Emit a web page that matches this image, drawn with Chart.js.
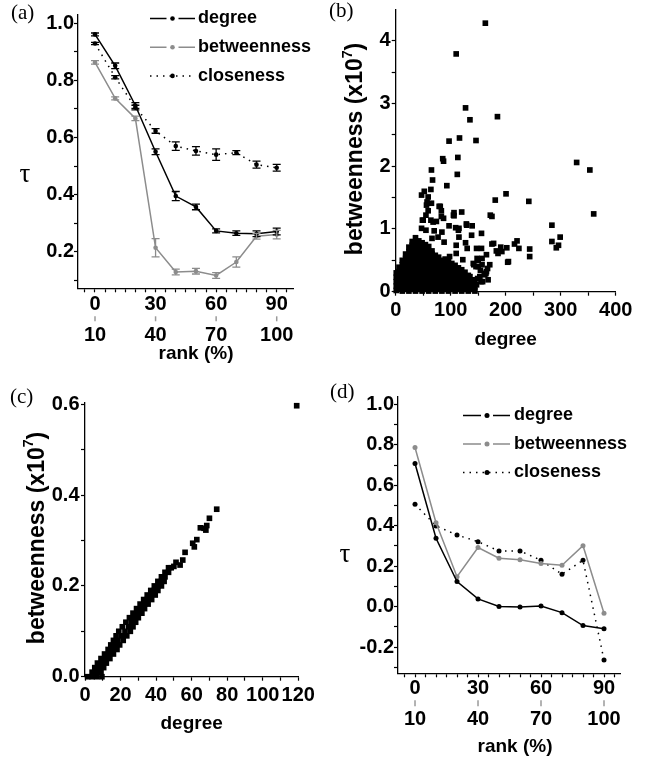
<!DOCTYPE html>
<html>
<head>
<meta charset="utf-8">
<script src="https://cdn.jsdelivr.net/npm/chart.js@4.4.1/dist/chart.umd.min.js"></script>
<style>
  html, body { margin: 0; padding: 0; background: #fff; }
  #wrap { position: relative; width: 646px; height: 763px; overflow: hidden; }
  canvas { position: absolute; }
</style>
</head>
<body>
<div id="wrap">
  <canvas id="chartA" width="323" height="380" style="left:0;top:0"></canvas>
  <canvas id="chartB" width="323" height="380" style="left:323px;top:0"></canvas>
  <canvas id="chartC" width="323" height="383" style="left:0;top:380px"></canvas>
  <canvas id="chartD" width="323" height="383" style="left:323px;top:380px"></canvas>
</div>
<script>
// ----- DATA -----
// rank bins (lower edge, %) shared by panels (a) and (d)
const rankBins = [0, 10, 20, 30, 40, 50, 60, 70, 80, 90];
const rankTickTop = [0, 30, 60, 90];
const rankTickBottom = ['10', '40', '70', '100'];

// (a) tau with error bars
const tauDegreeA = [0.961, 0.851, 0.712, 0.550, 0.395, 0.357, 0.273, 0.265, 0.263, 0.271];
const errDegreeA = [0.005, 0.010, 0.010, 0.010, 0.016, 0.010, 0.007, 0.008, 0.010, 0.012];
const tauBetweenA = [0.863, 0.737, 0.667, 0.214, 0.129, 0.132, 0.117, 0.164, 0.254, 0.260];
const errBetweenA = [0.006, 0.005, 0.008, 0.032, 0.010, 0.010, 0.010, 0.018, 0.010, 0.015];
const tauCloseA = [0.929, 0.811, 0.705, 0.623, 0.570, 0.553, 0.540, 0.547, 0.505, 0.494];
const errCloseA = [0.004, 0.006, 0.008, 0.008, 0.015, 0.015, 0.020, 0.007, 0.012, 0.012];
const tauTicksA = [0.2, 0.4, 0.6, 0.8, 1.0];

// (d) tau, no error bars
const tauDegreeD = [0.708, 0.338, 0.124, 0.038, 0.000, -0.002, 0.003, -0.030, -0.094, -0.110];
const tauBetweenD = [0.787, 0.415, 0.148, 0.292, 0.239, 0.232, 0.213, 0.204, 0.301, -0.033];
const tauCloseD = [0.506, 0.399, 0.354, 0.321, 0.275, 0.275, 0.229, 0.160, 0.229, -0.264];
const tauTicksD = [-0.2, 0.0, 0.2, 0.4, 0.6, 0.8, 1.0];

// (b) degree vs betweenness (x1e7): dense cloud read column by column, then the sparse points
const bBlobDegree = [1, 6, 12, 18, 24, 30, 36, 42, 48, 54, 60, 66, 72, 78, 84, 90, 96, 102, 108, 114, 120, 126, 132, 138, 144];
const bBlobLevels = [
  [0.02, 0.09, 0.16, 0.23, 0.30],
  [0.04, 0.11, 0.18, 0.25, 0.32, 0.39],
  [0.01, 0.08, 0.15, 0.22, 0.29, 0.36, 0.43, 0.50],
  [0.04, 0.11, 0.18, 0.25, 0.32, 0.39, 0.46, 0.53, 0.60],
  [0.01, 0.08, 0.15, 0.22, 0.29, 0.36, 0.43, 0.50, 0.57, 0.64, 0.71],
  [0.04, 0.11, 0.18, 0.25, 0.32, 0.39, 0.46, 0.53, 0.60, 0.67, 0.74, 0.80],
  [0.01, 0.08, 0.15, 0.22, 0.29, 0.36, 0.43, 0.50, 0.57, 0.64, 0.71, 0.78, 0.86],
  [0.04, 0.11, 0.18, 0.25, 0.32, 0.39, 0.46, 0.53, 0.60, 0.67, 0.74, 0.81],
  [0.01, 0.08, 0.15, 0.22, 0.29, 0.36, 0.43, 0.50, 0.57, 0.64, 0.71, 0.78],
  [0.04, 0.11, 0.18, 0.25, 0.32, 0.39, 0.46, 0.53, 0.60, 0.67, 0.75],
  [0.01, 0.08, 0.15, 0.22, 0.29, 0.36, 0.43, 0.50, 0.57, 0.64, 0.72],
  [0.04, 0.11, 0.18, 0.25, 0.32, 0.39, 0.46, 0.53, 0.60, 0.65],
  [0.01, 0.08, 0.15, 0.22, 0.29, 0.36, 0.43, 0.50, 0.58],
  [0.04, 0.11, 0.18, 0.25, 0.32, 0.39, 0.46, 0.55],
  [0.01, 0.08, 0.15, 0.22, 0.29, 0.36, 0.43, 0.50],
  [0.04, 0.11, 0.18, 0.25, 0.32, 0.39, 0.46, 0.52],
  [0.01, 0.08, 0.15, 0.22, 0.29, 0.36, 0.43, 0.48],
  [0.04, 0.11, 0.18, 0.25, 0.32, 0.39, 0.45],
  [0.01, 0.08, 0.15, 0.22, 0.29, 0.36, 0.42],
  [0.04, 0.11, 0.18, 0.25, 0.32, 0.38],
  [0.01, 0.08, 0.15, 0.22, 0.29, 0.35],
  [0.04, 0.11, 0.18, 0.25, 0.31],
  [0.01, 0.08, 0.15, 0.22, 0.26],
  [0.04, 0.11, 0.18],
  [0.01, 0.08, 0.14]
];
const bSparse = [
  [163, 4.28], [110, 3.79], [127, 2.93], [135, 2.74], [185, 2.79], [97, 2.40], [116, 2.45], [146, 2.41],
  [85.5, 2.12], [87, 2.08], [113, 2.14], [112, 1.87], [65, 1.94], [67, 1.78], [93, 1.69], [64, 1.63],
  [47, 1.54], [52, 1.60], [59, 1.51], [57, 1.43], [79, 1.36], [83, 1.29], [83, 1.20], [106, 1.26],
  [106, 1.21], [120, 1.27], [59, 1.29], [55, 1.22], [48.5, 1.14], [64, 1.14], [68, 1.11], [74, 1.12],
  [97, 1.05], [128.5, 1.08], [139, 1.05], [109, 1.02], [115, 1.01], [47, 1.01], [55, 0.98], [70, 0.97],
  [84, 0.95], [156, 0.93], [138, 0.90], [115, 0.87], [127, 0.78], [110, 0.74], [88, 0.79], [66, 0.85],
  [77, 0.87], [200.6, 1.56], [181, 1.46], [242, 1.44], [175, 1.20], [284, 1.06], [329, 2.06], [353, 1.94],
  [360, 1.24], [284, 0.80], [299, 0.87], [292, 0.70], [296, 0.74], [220.6, 0.81], [216, 0.76], [224, 0.69],
  [243.6, 0.68], [243.6, 0.56], [202, 0.70], [203.6, 0.47], [191, 0.71], [183, 0.65], [186, 0.61], [175, 0.76],
  [171, 0.43], [167, 0.37], [165, 0.59], [157, 0.53], [156, 0.69], [147, 0.69], [148, 0.53], [142, 0.43],
  [150, 0.40], [164, 0.29], [158, 0.16], [162, 0.27], [153, 0.24], [135, 0.24], [130, 0.69], [122, 0.51],
  [110, 0.61], [98, 0.56], [141, 0.45], [146, 0.40], [150, 0.50], [154, 0.34], [157, 0.43], [161, 0.29],
  [165, 0.32], [149, 0.21], [155, 0.16], [168, 0.19], [141, 0.19], [147, 0.11], [56, 1.38], [65, 1.41],
  [81, 1.36], [105, 1.22], [50, 1.14], [87, 1.17], [114, 0.98], [129, 1.06], [172, 1.22], [178, 0.77],
  [193, 0.64], [205, 0.48]
];
const bDegreeTicks = [0, 100, 200, 300, 400];
const bBetweenTicks = [0, 1, 2, 3, 4];

// (c) degree vs betweenness (x1e7): the thick band, row by row, then the loose points on top
const cBandLevels = [0, 0.01, 0.02, 0.03, 0.04, 0.05, 0.06, 0.07, 0.08, 0.09, 0.10, 0.11, 0.12,
  0.13, 0.14, 0.15, 0.16, 0.17, 0.18, 0.19, 0.20, 0.21, 0.22, 0.23, 0.24];
const cBandDegrees = [
  [1.5, 4, 6.5, 9.5], [4, 6.5, 9], [5.5, 8, 10.5], [7, 9.5, 12], [9, 11.5, 14], [11, 13.5, 16],
  [13, 15.5, 18], [14.5, 17, 19.5], [16, 18.5, 21.5], [17.5, 20.5, 23.5], [19, 22.5, 25.5],
  [21, 24.5, 27], [23, 26, 28.5], [25, 28, 30], [27, 29.5, 32], [29, 31.5, 33.5], [31, 33.5, 35.5],
  [33, 35, 37.5], [35, 37, 39.5], [37, 39, 41], [39, 41, 43], [41, 43, 44.5], [43, 45], [45, 47], [47, 48.5]
];
const cSparse = [
  [50, 0.243], [51.2, 0.252], [53.5, 0.246], [55, 0.257], [56.3, 0.274], [60.6, 0.294], [61.5, 0.286],
  [62.9, 0.302], [64.9, 0.328], [67, 0.327], [68, 0.323], [68.5, 0.333], [70, 0.349], [74.1, 0.369],
  [119.1, 0.597]
];
const cDegreeTicks = [0, 20, 40, 60, 80, 100, 120];
const cBetweenTicks = [0, 0.2, 0.4, 0.6];

// ----- STILE -----
const FONT = "'Liberation Sans', Arial, sans-serif";
const SERIF = "'Liberation Serif', 'DejaVu Serif', serif";
const GRAY = '#8c8c8c';
Chart.defaults.font.family = FONT;
Chart.defaults.font.weight = 'bold';
Chart.defaults.color = '#000';
Chart.defaults.animation = false;

// tick positions (minor + major) between two values
function stepTicks(from, to, step) {
  const out = [];
  for (let v = from; v <= to + 1e-9; v += step) out.push(+v.toFixed(6));
  return out;
}

function findMajor(majors, v) {
  return majors.findIndex(m => Math.abs(m - v) < 1e-6);
}

function buildAxis(cfg) {
  return {
    type: 'linear',
    min: cfg.min,
    max: cfg.max,
    afterBuildTicks: (scale) => { scale.ticks = cfg.ticks.map(v => ({ value: v })); },
    afterFit: (scale) => {
      if (cfg.horizontal) scale.height = cfg.size; else scale.width = cfg.size;
    },
    grid: { drawOnChartArea: false, drawTicks: true, tickLength: 4, tickWidth: 1.2, tickColor: '#000' },
    border: { display: true, color: '#000', width: 1.3 },
    ticks: {
      autoSkip: false, maxRotation: 0, minRotation: 0,
      padding: cfg.pad, color: '#000',
      font: { size: 20, weight: 'bold', lineHeight: cfg.lineHeight || '12px' },
      callback: cfg.label
    },
    title: cfg.title ? {
      display: true, text: cfg.title, color: '#000',
      font: { size: cfg.titleSize || 19, weight: 'bold', lineHeight: '26px' },
      padding: { top: cfg.titlePad || 0, bottom: 0 }
    } : { display: false }
  };
}

// error bars, legend, panel letters and other text drawn on top
const decorPlugin = {
  id: 'decor',
  afterDatasetsDraw(chart) {
    const ctx = chart.ctx, xs = chart.scales.x, ys = chart.scales.y;
    chart.data.datasets.forEach((ds) => {
      if (!ds.errorBars) return;
      ctx.save();
      ctx.strokeStyle = ds.borderColor;
      ctx.lineWidth = 1.3;
      ds.data.forEach((p, j) => {
        const e = ds.errorBars[j];
        const x = xs.getPixelForValue(p.x);
        const y1 = ys.getPixelForValue(p.y + e);
        const y2 = ys.getPixelForValue(p.y - e);
        ctx.beginPath();
        ctx.moveTo(x, y1); ctx.lineTo(x, y2);
        ctx.moveTo(x - 4, y1); ctx.lineTo(x + 4, y1);
        ctx.moveTo(x - 4, y2); ctx.lineTo(x + 4, y2);
        ctx.stroke();
      });
      ctx.restore();
    });
  },
  afterDraw(chart, args, opts) {
    const ctx = chart.ctx;
    ctx.save();
    if (opts.rankMarks) {
      const xs = chart.scales.x;
      ctx.strokeStyle = '#9a9a9a';
      ctx.lineWidth = 1.5;
      rankTickTop.forEach(v => {
        const x = xs.getPixelForValue(v);
        ctx.beginPath();
        ctx.moveTo(x, xs.top + opts.rankMarks[0]);
        ctx.lineTo(x, xs.top + opts.rankMarks[1]);
        ctx.stroke();
      });
    }
    (opts.texts || []).forEach(t => {
      ctx.font = t.font;
      ctx.fillStyle = '#000';
      ctx.textAlign = t.align || 'left';
      ctx.textBaseline = 'middle';
      ctx.fillText(t.text, t.x, t.y);
    });
    // rotated y title with a real superscript exponent
    if (opts.yTitle) {
      const T = opts.yTitle;
      const big = 'bold ' + T.size + 'px ' + FONT;
      const small = 'bold ' + Math.round(T.size * 0.62) + 'px ' + FONT;
      ctx.save();
      ctx.translate(T.x, T.y);
      ctx.rotate(-Math.PI / 2);
      ctx.fillStyle = '#000';
      ctx.textBaseline = 'middle';
      ctx.textAlign = 'left';
      ctx.font = big; const w1 = ctx.measureText(T.text).width; const w3 = ctx.measureText(T.tail).width;
      ctx.font = small; const w2 = ctx.measureText(T.sup).width;
      let x = -(w1 + w2 + w3) / 2;
      ctx.font = big; ctx.fillText(T.text, x, 0); x += w1;
      ctx.font = small; ctx.fillText(T.sup, x, -T.size * 0.36); x += w2;
      ctx.font = big; ctx.fillText(T.tail, x, 0);
      ctx.restore();
    }
    if (opts.legend) {
      const L = opts.legend;
      chart.data.datasets.forEach((ds, k) => {
        const y = L.y + k * L.dy;
        ctx.strokeStyle = ds.borderColor;
        ctx.fillStyle = ds.borderColor;
        ctx.lineWidth = ds.borderWidth;
        if (ds.borderDash) {
          ctx.setLineDash(ds.borderDash);
          ctx.beginPath(); ctx.moveTo(L.x0, y); ctx.lineTo(L.x1, y); ctx.stroke();
          ctx.setLineDash([]);
        } else {
          ctx.beginPath();
          ctx.moveTo(L.x0, y); ctx.lineTo(L.dot - 6, y);
          ctx.moveTo(L.dot + 6, y); ctx.lineTo(L.x1, y);
          ctx.stroke();
        }
        ctx.beginPath(); ctx.arc(L.dot, y, ds.pointRadius, 0, Math.PI * 2); ctx.fill();
        ctx.fillStyle = '#000';
        ctx.font = 'bold 18px ' + FONT;
        ctx.textAlign = 'left';
        ctx.textBaseline = 'middle';
        ctx.fillText(ds.label, L.textX, y);
      });
    }
    ctx.restore();
  }
};

function rankDatasets(deg, bet, clo, errs, radius) {
  const pts = (vals) => rankBins.map((r, i) => ({ x: r, y: vals[i] }));
  const base = { borderWidth: 1.5, pointRadius: radius, pointBorderWidth: 0, pointHoverRadius: radius, tension: 0, clip: false };
  return [
    Object.assign({ label: 'degree', data: pts(deg), borderColor: '#000', backgroundColor: '#000', errorBars: errs ? errs[0] : null }, base),
    Object.assign({ label: 'betweenness', data: pts(bet), borderColor: GRAY, backgroundColor: GRAY, errorBars: errs ? errs[1] : null }, base),
    Object.assign({ label: 'closeness', data: pts(clo), borderColor: '#000', backgroundColor: '#000', borderDash: [1.5, 5], errorBars: errs ? errs[2] : null }, base)
  ];
}

const rankLabel = (v) => {
  const i = findMajor(rankTickTop, v);
  return i < 0 ? '' : [String(rankTickTop[i]), rankTickBottom[i]];
};

// ----- PANNELLO (a) -----
new Chart(document.getElementById('chartA'), {
  type: 'line',
  data: { datasets: rankDatasets(tauDegreeA, tauBetweenA, tauCloseA, [errDegreeA, errBetweenA, errCloseA], 2.3) },
  options: {
    responsive: false,
    layout: { padding: { left: 0, top: 15, right: 30, bottom: 21.7 } },
    scales: {
      x: buildAxis({ min: -8.42, max: 98.07, ticks: stepTicks(-5, 95, 5), horizontal: true, size: 70,
        pad: -3.2, lineHeight: '31px', label: rankLabel }),
      y: buildAxis({ min: 0.072, max: 1.029, ticks: stepTicks(0.1, 1.0, 0.1), size: 78, pad: 0,
        label: (v) => { const i = findMajor(tauTicksA, v); return i < 0 ? '' : tauTicksA[i].toFixed(1); } })
    },
    plugins: {
      legend: { display: false }, tooltip: { enabled: false },
      decor: {
        rankMarks: [28, 33],
        texts: [
          { text: '(a)', x: 11, y: 13, font: '21px ' + SERIF },
          { text: 'τ', x: 25, y: 175, font: '27px ' + SERIF, align: 'center' },
          { text: 'rank (%)', x: 196, y: 354, font: 'bold 19px ' + FONT, align: 'center' }
        ],
        legend: { x0: 150, x1: 195, dot: 172.5, textX: 198, y: 18.5, dy: 28.7 }
      }
    }
  },
  plugins: [decorPlugin]
});

// ----- PANNELLO (b) -----
const bPoints = [];
bBlobDegree.forEach((d, i) => bBlobLevels[i].forEach(b => bPoints.push({ x: d, y: b })));
bSparse.forEach(p => bPoints.push({ x: p[0], y: p[1] }));

new Chart(document.getElementById('chartB'), {
  type: 'scatter',
  data: { datasets: [{ data: bPoints, pointStyle: 'rect', pointRadius: 4, pointBorderWidth: 0,
    backgroundColor: '#000', borderColor: '#000', clip: false }] },
  options: {
    responsive: false,
    layout: { padding: { left: 0, top: 10, right: 30.3, bottom: 27 } },
    scales: {
      x: buildAxis({ min: 0, max: 400, ticks: stepTicks(0, 400, 50), horizontal: true, size: 61.3, pad: 1.3,
        lineHeight: '26px', title: 'degree',
        label: (v) => { const i = findMajor(bDegreeTicks, v); return i < 0 ? '' : String(bDegreeTicks[i]); } }),
      y: buildAxis({ min: 0, max: 4.49, ticks: stepTicks(0, 4.0, 0.5), size: 72.7, pad: 1,
        label: (v) => { const i = findMajor(bBetweenTicks, v); return i < 0 ? '' : String(bBetweenTicks[i]); } })
    },
    plugins: {
      legend: { display: false }, tooltip: { enabled: false },
      decor: {
        texts: [{ text: '(b)', x: 6, y: 11, font: '21px ' + SERIF }],
        yTitle: { text: 'betweenness (x10', sup: '7', tail: ')', x: 33, y: 149, size: 23 }
      }
    }
  },
  plugins: [decorPlugin]
});

// ----- PANNELLO (c) -----
const cPoints = [];
cBandLevels.forEach((b, i) => cBandDegrees[i].forEach(d => cPoints.push({ x: d, y: b })));
cSparse.forEach(p => cPoints.push({ x: p[0], y: p[1] }));

new Chart(document.getElementById('chartC'), {
  type: 'scatter',
  data: { datasets: [{ data: cPoints, pointStyle: 'rect', pointRadius: 4, pointBorderWidth: 0,
    backgroundColor: '#000', borderColor: '#000', clip: false }] },
  options: {
    responsive: false,
    layout: { padding: { left: 0, top: 23, right: 24.7, bottom: 26 } },
    scales: {
      x: buildAxis({ min: 0, max: 120, ticks: stepTicks(0, 120, 10), horizontal: true, size: 60.3, pad: 1.3,
        lineHeight: '26px', title: 'degree',
        label: (v) => { const i = findMajor(cDegreeTicks, v); return i < 0 ? '' : String(cDegreeTicks[i]); } }),
      y: buildAxis({ min: 0, max: 0.603, ticks: stepTicks(0, 0.6, 0.1), size: 85, pad: 1.5,
        label: (v) => { const i = findMajor(cBetweenTicks, v); return i < 0 ? '' : cBetweenTicks[i].toFixed(1); } })
    },
    plugins: {
      legend: { display: false }, tooltip: { enabled: false },
      decor: {
        texts: [{ text: '(c)', x: 10, y: 17, font: '21px ' + SERIF }],
        yTitle: { text: 'betweenness (x10', sup: '7', tail: ')', x: 37.5, y: 158, size: 23 }
      }
    }
  },
  plugins: [decorPlugin]
});

// ----- PANNELLO (d) -----
new Chart(document.getElementById('chartD'), {
  type: 'line',
  data: { datasets: rankDatasets(tauDegreeD, tauBetweenD, tauCloseD, null, 2.5) },
  options: {
    responsive: false,
    layout: { padding: { left: 0, top: 16.7, right: 25.3, bottom: 19.7 } },
    scales: {
      x: buildAxis({ min: -8.1, max: 97.95, ticks: stepTicks(-5, 95, 5), horizontal: true, size: 70,
        pad: -4.3, lineHeight: '31px', label: rankLabel }),
      y: buildAxis({ min: -0.33, max: 1.038, ticks: stepTicks(-0.3, 1.0, 0.1), size: 75, pad: 0,
        label: (v) => { const i = findMajor(tauTicksD, v); return i < 0 ? '' : tauTicksD[i].toFixed(1); } })
    },
    plugins: {
      legend: { display: false }, tooltip: { enabled: false },
      decor: {
        rankMarks: [27, 33],
        texts: [
          { text: '(d)', x: 7, y: 12, font: '21px ' + SERIF },
          { text: 'τ', x: 22, y: 175, font: '27px ' + SERIF, align: 'center' },
          { text: 'rank (%)', x: 192, y: 367, font: 'bold 19px ' + FONT, align: 'center' }
        ],
        legend: { x0: 140, x1: 187, dot: 164, textX: 191, y: 35.5, dy: 28.5 }
      }
    }
  },
  plugins: [decorPlugin]
});
</script>
</body>
</html>
